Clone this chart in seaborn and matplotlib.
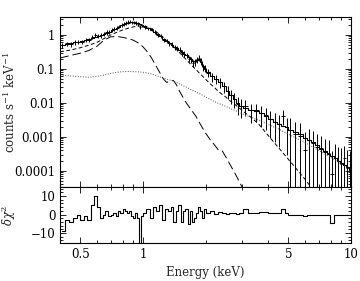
import numpy as np
import matplotlib
matplotlib.use("Agg")
import matplotlib.pyplot as plt
import seaborn as sns
from matplotlib.ticker import FixedLocator, FixedFormatter, NullFormatter, LogLocator, MultipleLocator

#%% spectrum bins (keV)
energy = [0.41, 0.43, 0.45, 0.47, 0.49, 0.51, 0.53, 0.55, 0.57, 0.59,
          0.61, 0.63, 0.65, 0.67, 0.69, 0.71, 0.73, 0.75, 0.77, 0.79,
          0.81, 0.83, 0.85, 0.87, 0.89, 0.91, 0.93, 0.95, 0.97, 0.99,
          1.02, 1.06, 1.10, 1.14, 1.18, 1.22, 1.26, 1.30, 1.34, 1.38,
          1.42, 1.46, 1.50, 1.54, 1.58, 1.62, 1.66, 1.70, 1.74, 1.78,
          1.82, 1.86, 1.90, 1.94, 1.98,
          2.05, 2.15, 2.25, 2.35, 2.45, 2.55, 2.65, 2.75, 2.85, 2.95,
          3.1, 3.3, 3.5, 3.7, 3.9, 4.1, 4.3, 4.5, 4.7, 4.9,
          5.1, 5.4, 5.7, 6.0, 6.3, 6.6, 6.9, 7.2, 7.5, 7.8, 8.1, 8.4, 8.7,
          9.0, 9.3, 9.6, 9.9]

counts = [0.50, 0.56, 0.53, 0.60, 0.64, 0.62, 0.70, 0.70, 0.86, 0.98,
          0.96, 0.97, 1.07, 1.18, 1.25, 1.38, 1.50, 1.60, 1.78, 1.95,
          2.12, 2.25, 2.38, 2.45, 2.35, 2.30, 2.28, 2.12, 1.70, 1.90,
          1.75, 1.55, 1.45, 1.20, 1.02, 0.92, 0.72, 0.66, 0.57, 0.52,
          0.43, 0.41, 0.37, 0.30, 0.28, 0.25, 0.20, 0.19, 0.15, 0.16,
          0.19, 0.21, 0.17, 0.115, 0.105,
          0.078, 0.060, 0.050, 0.040, 0.031, 0.022, 0.017, 0.013, 0.0095, 0.0082,
          0.0080, 0.0060, 0.0062, 0.0050, 0.0043, 0.0033, 0.0028, 0.0024, 0.0042, 0.0020,
          0.0016, 0.0012, 0.0011, 0.00040, 0.0008, 0.00068, 0.00050, 0.00048, 0.00036,
          0.00033, 0.00008, 0.00024, 0.00020, 0.00016, 0.00024, 0.00012, 0.00009]

counts_err = [0.08, 0.08, 0.08, 0.09, 0.09, 0.09, 0.10, 0.10, 0.12, 0.13,
              0.13, 0.14, 0.15, 0.17, 0.18, 0.19, 0.20, 0.22, 0.23, 0.25,
              0.26, 0.27, 0.28, 0.28, 0.28, 0.27, 0.27, 0.26, 0.24, 0.23,
              0.22, 0.20, 0.18, 0.16, 0.14, 0.13, 0.11, 0.10, 0.09, 0.08,
              0.075, 0.07, 0.065, 0.055, 0.05, 0.045, 0.04, 0.038, 0.033, 0.034,
              0.038, 0.04, 0.035, 0.028, 0.025,
              0.022, 0.018, 0.015, 0.013, 0.011, 0.009, 0.0075, 0.006, 0.0050, 0.0045,
              0.0040, 0.0035, 0.0034, 0.0030, 0.0027, 0.0024, 0.0021, 0.0019, 0.0020, 0.0017,
              0.0019, 0.0015, 0.0014, 0.0010, 0.0009, 0.0008, 0.0007, 0.0006, 0.0005,
              0.0005, 0.0003, 0.0004, 0.0003, 0.0003, 0.0003, 0.0003, 0.0003]

model_total = [0.52, 0.55, 0.58, 0.61, 0.64, 0.67, 0.71, 0.75, 0.80, 0.86,
               0.92, 0.99, 1.07, 1.16, 1.26, 1.37, 1.49, 1.62, 1.76, 1.91,
               2.06, 2.20, 2.32, 2.40, 2.40, 2.35, 2.27, 2.17, 2.05, 1.93,
               1.78, 1.58, 1.40, 1.23, 1.06, 0.91, 0.78, 0.67, 0.58, 0.51,
               0.45, 0.40, 0.36, 0.32, 0.28, 0.25, 0.22, 0.19, 0.17, 0.17,
               0.18, 0.19, 0.16, 0.12, 0.10,
               0.080, 0.062, 0.049, 0.040, 0.031, 0.023, 0.017, 0.013, 0.0100, 0.0083,
               0.0072, 0.0064, 0.0058, 0.0050, 0.0042, 0.0034, 0.0028, 0.0024, 0.0021, 0.0019,
               0.0016, 0.0014, 0.0012, 0.00095, 0.00082, 0.0007, 0.00056, 0.00045, 0.00038,
               0.00032, 0.00028, 0.00024, 0.0002, 0.00017, 0.00015, 0.00013, 0.00011]

delchi = [-9, -3, -4, -2, 0, -3, -1, -3, 5, 10,
          4, -2, 0, 2, -1, 0, 1, -1, 2, 1,
          3, 2, 1, 2, -1, -2, 1, -2, -16, -1,
          1, 3, -2, 4, 2, 5, -3, 3, 2, 4,
          -4, 2, 5, -4, 2, 3, -5, 2, -4, -2,
          1, 4, 2, -2, 3,
          1, 2, 0.5, 1.5, 1, 0.5, 0.8, 1, 0.5, 1,
          3, 1, 1, 1.5, 1.5, 1, 1, 1, 3, 1,
          -0.3, -0.5, -0.4, -0.6, -0.4, -0.5, -0.5, -0.4, -0.5,
          -0.5, -4.5, -0.4, -0.5, -0.3, 0, 0, -0.2]

#%% model components
comp_energy = [0.4, 0.45, 0.5, 0.55, 0.6, 0.65, 0.7, 0.75, 0.8, 0.85,
               0.9, 0.95, 1.0, 1.05, 1.1, 1.15, 1.2, 1.25, 1.3, 1.35,
               1.4, 1.45, 1.5, 1.6, 1.7, 1.8, 1.9, 2.0, 2.1, 2.2,
               2.3, 2.4, 2.5, 2.6, 2.8, 3.0, 3.3, 3.6, 4.0, 4.5,
               5.0, 5.5, 6.0, 6.5, 7.0, 8.0, 9.0, 10.0]

comp_dash = [0.32, 0.36, 0.42, 0.50, 0.60, 0.78, 1.00, 1.20, 1.40, 1.58,
             1.72, 1.82, 1.82, 1.70, 1.52, 1.28, 1.05, 0.85, 0.68, 0.56,
             0.46, 0.37, 0.30, 0.20, 0.135, 0.095, 0.068, 0.050, 0.037, 0.029,
             0.022, 0.018, 0.015, 0.012, 0.0085, 0.0060, 0.0038, 0.0024, 0.0011, 0.00047,
             0.00022, 0.00011, 0.000058, 0.000030, 0.000016, 0.000005, 0.0000015, 0.0000005]

comp_longdash = [0.21, 0.25, 0.29, 0.35, 0.46, 0.70, 0.88, 0.90, 0.85, 0.78,
                 0.70, 0.58, 0.45, 0.32, 0.21, 0.13, 0.082, 0.052, 0.040, 0.045,
                 0.046, 0.034, 0.022, 0.011, 0.0065, 0.0040, 0.0022, 0.0013, 0.00085, 0.00060,
                 0.00042, 0.00040, 0.00026, 0.00017, 0.000075, 0.000033, 0.00001, 3e-6, 1e-6, 3e-7,
                 1e-7, 1e-7, 1e-7, 1e-7, 1e-7, 1e-7, 1e-7, 1e-7]

comp_dot = [0.066, 0.062, 0.059, 0.057, 0.060, 0.066, 0.074, 0.080, 0.083, 0.084,
            0.083, 0.082, 0.080, 0.076, 0.071, 0.065, 0.059, 0.054, 0.050, 0.047,
            0.044, 0.040, 0.036, 0.030, 0.025, 0.021, 0.018, 0.015, 0.013, 0.011,
            0.0098, 0.0088, 0.0079, 0.0071, 0.0058, 0.0048, 0.0038, 0.0031, 0.0023, 0.0017,
            0.0012, 0.00090, 0.00068, 0.00052, 0.00040, 0.00025, 0.00016, 0.00011]

#%% ticks
xticks = [0.5, 1, 5, 10]
xtick_labels = ["0.5", "1", "5", "10"]
xminor = [0.4, 0.6, 0.7, 0.8, 0.9, 2, 3, 4, 6, 7, 8, 9]
yticks = [1e-4, 1e-3, 1e-2, 1e-1, 1]
ytick_labels = ["0.0001", "0.001", "0.01", "0.1", "1"]
rticks = [-10, 0, 10]

#%% style
sns.set_style("ticks", {"axes.edgecolor": "black", "xtick.color": "black",
                        "ytick.color": "black", "xtick.direction": "in",
                        "ytick.direction": "in"})
plt.rcParams["font.family"] = ["DejaVu Serif"]
plt.rcParams["mathtext.fontset"] = "dejavuserif"
plt.rcParams["font.size"] = 8.5

e = np.array(energy)
edges = np.concatenate([[e[0] - (e[1] - e[0]) / 2], (e[1:] + e[:-1]) / 2,
                        [e[-1] + (e[-1] - e[-2]) / 2]])
xlo = e - edges[:-1]
xhi = edges[1:] - e

fig = plt.figure(figsize=(3.6, 2.81), dpi=100)
ax = fig.add_axes([0.167, 0.335, 0.808, 0.605])
axr = fig.add_axes([0.167, 0.135, 0.808, 0.2], sharex=ax)
ax.set_xscale("log")
ax.set_yscale("log")

#%% top panel
ax.errorbar(energy, counts, yerr=counts_err, xerr=[xlo, xhi], fmt="none",
            ecolor="black", elinewidth=0.7, capsize=0)
sns.lineplot(x=energy, y=model_total, ax=ax, estimator=None, color="black",
             lw=0.8, drawstyle="steps-mid")
sns.lineplot(x=comp_energy, y=comp_dash, ax=ax, estimator=None, color="black",
             lw=0.7, linestyle=(0, (4, 2.5)))
sns.lineplot(x=comp_energy, y=comp_longdash, ax=ax, estimator=None, color="black",
             lw=0.7, linestyle=(0, (9, 4)))
sns.lineplot(x=comp_energy, y=comp_dot, ax=ax, estimator=None, color="0.3",
             lw=0.7, linestyle=(0, (1, 1.6)))

ax.set_xlim(0.4, 10)
ax.set_ylim(3.4e-5, 3.4)
ax.yaxis.set_major_locator(FixedLocator(yticks))
ax.yaxis.set_major_formatter(FixedFormatter(ytick_labels))
ax.yaxis.set_minor_locator(LogLocator(base=10, subs=np.arange(2, 10) * 1.0, numticks=20))
ax.yaxis.set_minor_formatter(NullFormatter())
ax.set_ylabel(r"counts s$^{-1}$ keV$^{-1}$")

#%% residual panel
sns.lineplot(x=energy, y=delchi, ax=axr, estimator=None, color="black",
             lw=0.8, drawstyle="steps-mid")
axr.set_ylim(-15.5, 15)
axr.yaxis.set_major_locator(FixedLocator(rticks))
axr.yaxis.set_minor_locator(MultipleLocator(2))
axr.xaxis.set_major_locator(FixedLocator(xticks))
axr.xaxis.set_major_formatter(FixedFormatter(xtick_labels))
axr.xaxis.set_minor_locator(FixedLocator(xminor))
axr.xaxis.set_minor_formatter(NullFormatter())
axr.set_ylabel(r"$\delta\chi^2$")
axr.set_xlabel("Energy (keV)", labelpad=4)

for a in (ax, axr):
    a.tick_params(which="both", direction="in", top=True, right=True, width=0.6)
    a.tick_params(which="major", length=4)
    a.tick_params(which="minor", length=2)
    for s in a.spines.values():
        s.set_linewidth(0.8)
    a.yaxis.set_label_coords(-0.145, 0.5)
ax.tick_params(labelbottom=False)

fig.savefig("out.png", dpi=100)
